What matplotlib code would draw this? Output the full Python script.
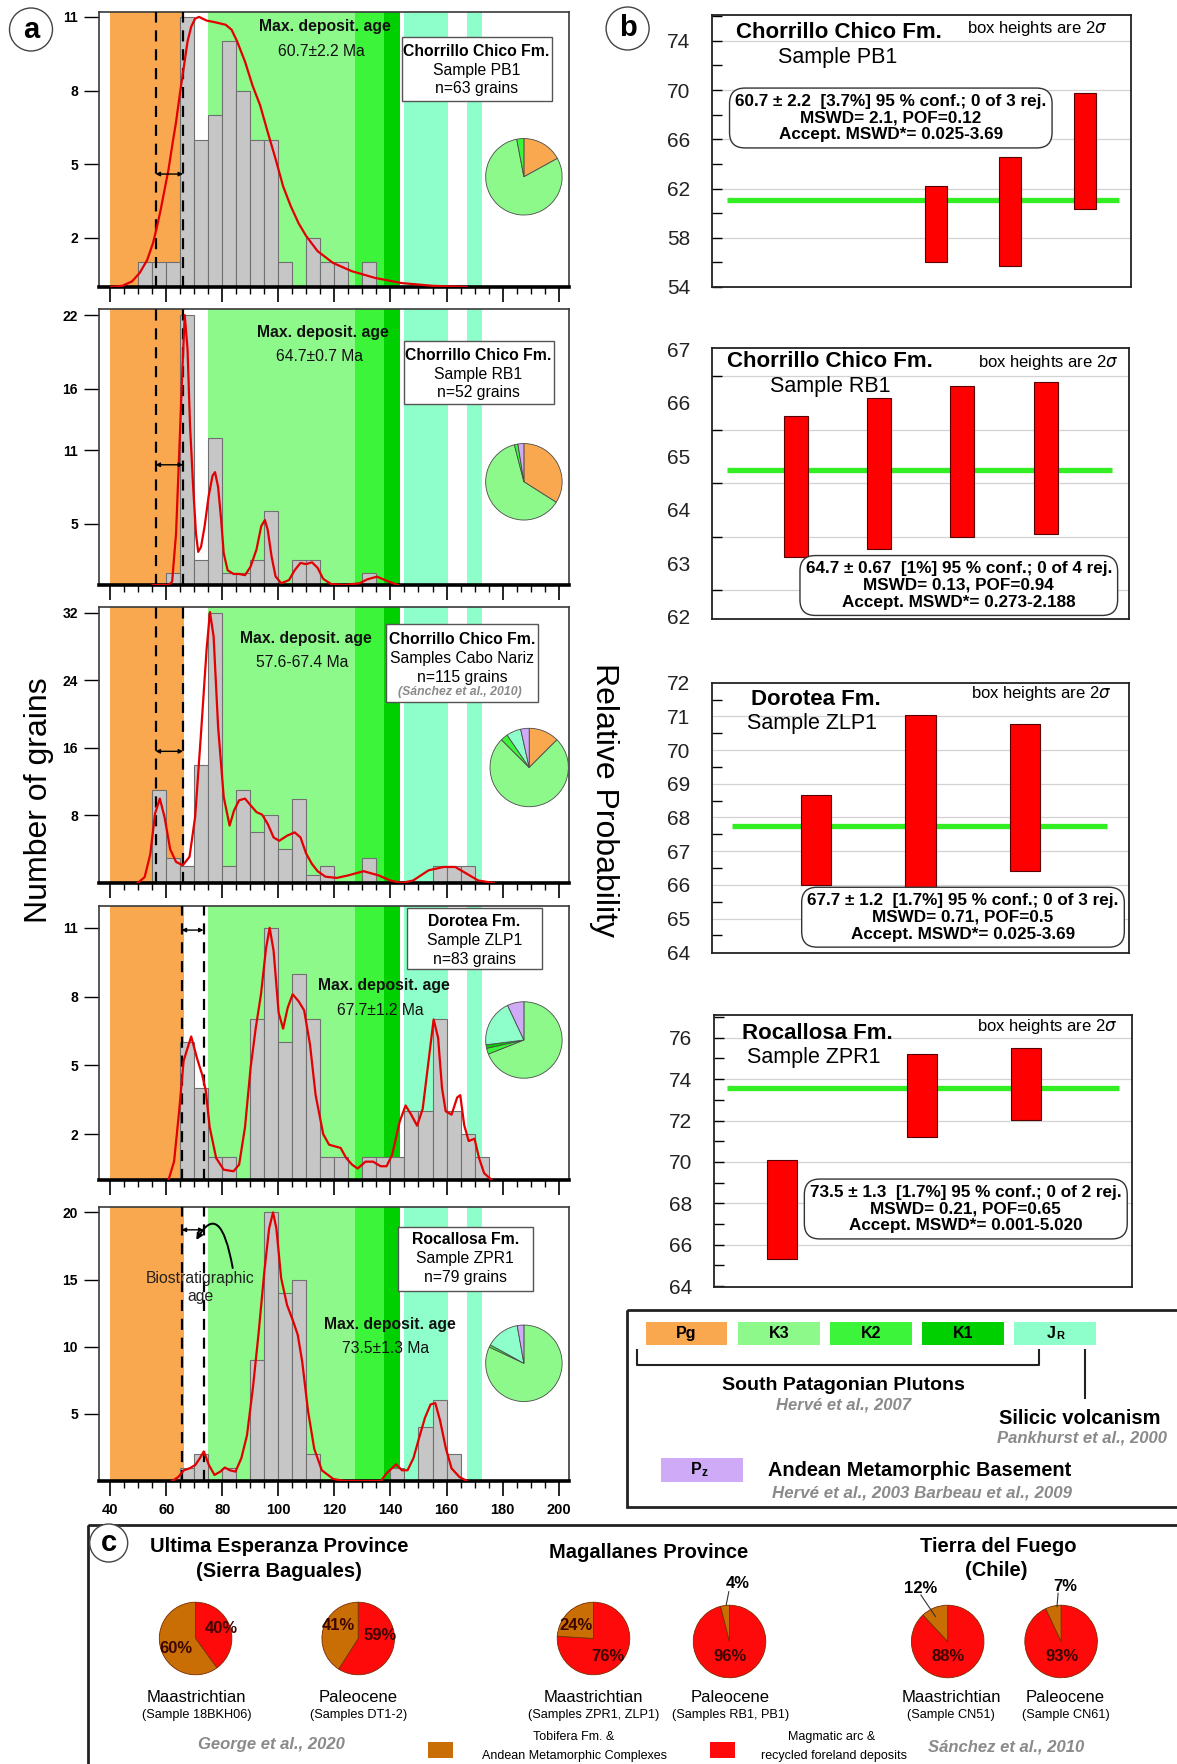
import matplotlib
matplotlib.use("Agg")
import matplotlib.pyplot as plt
import numpy as np
from matplotlib.patches import Rectangle, Circle

plt.rcParams['font.family'] = ['Liberation Sans', 'DejaVu Sans']

W, H = 1177, 1764

# ---------------- data ----------------
# source colours: Pg, K3, K2, K1, JR, Pz
C_PG, C_K3, C_K2, C_K1, C_JR, C_PZ = '#f9a84f', '#8cf98a', '#3cf53a', '#00d000', '#8effca', '#cfaaf7'
src_colors = [C_PG, C_K3, C_K2, C_K1, C_JR, C_PZ]

# background age bands (Ma)
band_lo = [40, 75, 127.4, 137.8, 145, 167.4]
band_hi = [66.2, 127.4, 137.8, 143.5, 160.6, 172.6]
band_col = [C_PG, C_K3, C_K2, C_K1, C_JR, C_JR]

bin_left = list(range(40, 180, 5))
counts_pb1 = [0,0,1,1,1,11,6,7,10,8,6,6,1,0,2,1,1,0,1,0,0,0,0,0,0,0,0,0]
counts_rb1 = [0,0,0,0,1,22,2,12,1,1,2,6,0,2,2,0,0,0,1,0,0,0,0,0,0,0,0,0]
counts_cabo = [0,0,0,11,3,2,14,32,2,11,6,8,4,10,1,2,0,0,3,0,0,0,0,2,2,2,0,0]
counts_zlp1 = [0,0,0,0,0,6,4,1,1,0,7,11,6,9,7,1,1,0,1,1,1,3,3,7,3,2,1,0]
counts_zpr1 = [0,0,0,0,0,1,2,0,1,0,9,20,14,15,2,0,0,0,0,0,1,0,4,6,2,0,0,0]

# probability density curves
pb1_x = [40.3,44.4,47.8,50.5,53.2,55.3,56.7,58.0,59.4,60.8,62.1,63.5,64.8,66.2,67.6,68.9,70.3,71.7,74.4,77.1,
         81.2,83.3,85.3,88.1,90.8,93.5,96.2,99.0,101.7,104.4,107.2,109.9,114.0,119.5,126.3,134.5,144.0,154.9,167.2]
pb1_y = [0,0.05,0.23,0.57,1.1,1.8,2.46,3.14,3.96,4.78,5.74,6.72,7.81,8.91,10.0,10.6,10.93,11.0,10.85,10.79,
         10.68,10.48,10.0,9.18,8.2,7.4,6.31,5.22,4.1,3.3,2.6,2.08,1.46,0.98,0.64,0.37,0.16,0.05,0]
rb1_x = [55.3,60.8,62.1,63.5,64.8,65.8,66.6,67.6,68.5,69.6,70.6,71.4,72.4,73.7,75.1,76.5,77.4,78.5,79.6,80.5,
         81.9,84.0,86.0,88.1,90.1,92.2,93.9,95.2,96.2,97.6,99.0,101.0,103.8,105.8,107.9,109.9,112.0,114.0,116.0,
         118.8,123.5,129.0,131.7,135.2,138.6,142.7]
rb1_y = [0,0,0.27,4.2,11.8,17.8,22.0,19.2,12.9,8.0,4.2,2.7,3.1,4.8,7.2,8.9,9.2,8.0,5.3,2.6,
         1.2,0.9,0.9,0.8,1.5,2.9,4.8,5.3,4.5,2.3,0.7,0.14,0.4,1.2,1.8,1.7,1.85,1.4,0.5,
         0.08,0,0.14,0.46,0.68,0.35,0]
cabo_x = [49.8,52.3,54.3,56.0,57.7,59.4,61.4,63.5,65.9,68.3,70.3,72.4,74.4,75.6,76.9,78.5,80.5,82.6,84.2,86.0,
          88.1,90.1,92.2,94.2,96.2,98.3,100.3,103.1,105.8,107.9,109.9,111.9,114.0,116.8,120.8,124.9,130.4,135.8,
          139.9,144.0,148.1,153.6,159.0,163.1,167.2,171.3,176.8]
cabo_y = [0,0.7,3.4,8.2,10.0,7.8,4.0,2.5,2.1,3.1,7.8,17.7,27.7,32.1,29.2,18.5,10.2,6.8,8.6,9.8,
          10.0,9.2,8.4,8.1,7.0,5.4,5.0,5.6,6.0,5.4,3.5,2.3,1.4,0.75,0.6,0.9,1.4,0.9,
          0.3,0,0.3,1.5,1.9,1.9,1.1,0.3,0]
zlp1_x = [60.8,62.8,64.6,66.2,68.9,71.0,72.8,74.1,75.5,77.8,80.5,84.0,86.0,88.1,90.1,91.9,93.8,95.6,96.9,98.3,
          100.1,101.7,103.3,105.1,107.2,109.2,111.3,113.3,116.0,118.1,120.1,122.2,124.2,126.3,128.3,131.1,133.8,
          136.5,138.6,140.6,143.3,145.4,147.4,149.5,151.5,153.6,155.4,157.0,158.4,159.7,161.8,163.8,164.9,166.3,
          167.9,170.0,171.6,173.4,176.1]
zlp1_y = [0,0.81,3.0,5.2,6.26,5.3,4.6,3.9,2.3,0.96,0.45,0.38,0.67,2.3,4.9,6.6,8.1,10.1,11.0,10.0,
          7.3,6.6,7.5,8.1,7.8,7.4,5.9,3.7,2.0,1.54,1.47,1.4,0.96,0.67,0.5,0.8,0.8,
          0.6,0.6,1.1,2.55,3.25,2.85,2.37,3.1,5.2,7.0,6.2,4.0,3.0,2.85,3.6,3.7,2.4,
          1.7,1.8,0.96,0.3,0]
zpr1_x = [62.1,64.3,66.3,68.4,70.4,72.0,73.4,75.2,77.2,79.3,80.9,82.7,84.7,86.8,88.8,90.9,92.9,95.0,96.7,98.1,
          99.3,101.0,103.1,105.1,106.9,108.5,110.6,112.8,115.5,119.6,123.7,136.6,138.6,142.0,144.1,146.1,148.2,
          150.2,152.3,154.3,156.0,157.7,159.8,161.8,164.6,167.3]
zpr1_y = [0,0.3,0.8,0.95,1.2,1.7,2.2,1.2,0.45,0.7,1.0,0.8,0.7,1.7,3.4,6.9,10.9,15.6,18.8,20.0,
          18.8,15.1,13.1,12.0,10.9,8.9,5.2,2.4,0.8,0.15,0,0,0.57,1.24,0.8,0.8,1.7,
          3.2,4.7,5.7,5.8,4.5,2.4,0.94,0.3,0]

# source proportions (%) in order Pg, K3, K2, K1, JR, Pz
pie_pb1 = [17, 80, 3, 0, 0, 0]
pie_rb1 = [34, 62, 1.5, 0, 0, 2.5]
pie_cabo = [12.5, 75, 3, 0, 6, 3.5]
pie_zlp1 = [0, 69, 2.5, 1.5, 20, 7]
pie_zpr1 = [0, 82, 1, 0, 14.2, 2.8]

yticks_a = [[2, 5, 8, 11], [5, 11, 16, 22], [8, 16, 24, 32], [2, 5, 8, 11], [5, 10, 15, 20]]
ytop_a = [11.2, 22.5, 32.7, 11.95, 20.4]
dash_a = [[56.2, 66.0], [56.2, 66.0], [56.2, 66.0], [65.5, 73.3], [65.5, 73.3]]
arrow_y = [4.6, 9.8, 15.6, 10.9, 18.7]

fm_names = ['Chorrillo Chico Fm.', 'Chorrillo Chico Fm.', 'Chorrillo Chico Fm.', 'Dorotea Fm.', 'Rocallosa Fm.']
sample_names = ['Sample PB1', 'Sample RB1', 'Samples Cabo Nariz', 'Sample ZLP1', 'Sample ZPR1']
n_grains = ['n=63 grains', 'n=52 grains', 'n=115 grains', 'n=83 grains', 'n=79 grains']
max_ages = ['60.7±2.2 Ma', '64.7±0.7 Ma', '57.6-67.4 Ma', '67.7±1.2 Ma', '73.5±1.3 Ma']

# weighted mean panels (b)
b1_pos, b1_top, b1_bot, b1_mean = [3, 4, 5], [62.2, 64.6, 69.8], [56.0, 55.7, 60.3], 61.1
b2_pos, b2_top, b2_bot, b2_mean = [1, 2, 3, 4], [65.75, 66.09, 66.32, 66.39], [63.12, 63.27, 63.49, 63.55], 64.75
b3_pos, b3_top, b3_bot, b3_mean = [1, 2, 3], [68.67, 71.04, 70.77], [66.0, 65.4, 66.41], 67.74
b4_pos, b4_top, b4_bot, b4_mean = [0.65, 2, 3], [70.1, 75.2, 75.5], [65.3, 71.2, 72.03], 73.56
b_stats = ['60.7 ± 2.2  [3.7%] 95 % conf.; 0 of 3 rej.\nMSWD= 2.1, POF=0.12\nAccept. MSWD*= 0.025-3.69',
           '64.7 ± 0.67  [1%] 95 % conf.; 0 of 4 rej.\nMSWD= 0.13, POF=0.94\nAccept. MSWD*= 0.273-2.188',
           '67.7 ± 1.2  [1.7%] 95 % conf.; 0 of 3 rej.\nMSWD= 0.71, POF=0.5\nAccept. MSWD*= 0.025-3.69',
           '73.5 ± 1.3  [1.7%] 95 % conf.; 0 of 2 rej.\nMSWD= 0.21, POF=0.65\nAccept. MSWD*= 0.001-5.020']
b_fm = ['Chorrillo Chico Fm.', 'Chorrillo Chico Fm.', 'Dorotea Fm.', 'Rocallosa Fm.']
b_sample = ['Sample PB1', 'Sample RB1', 'Sample ZLP1', 'Sample ZPR1']

# panel c: % magmatic arc (red) and % Tobifera/metamorphic (brown)
c_red = [40, 59, 76, 96, 88, 93]
c_brown = [60, 41, 24, 4, 12, 7]
c_age = ['Maastrichtian', 'Paleocene', 'Maastrichtian', 'Paleocene', 'Maastrichtian', 'Paleocene']
c_samples = ['(Sample 18BKH06)', '(Samples DT1-2)', '(Samples ZPR1, ZLP1)', '(Samples RB1, PB1)',
             '(Sample CN51)', '(Sample CN61)']
C_RED, C_BROWN = '#ff0a0a', '#c86e04'
GRAY_TXT = '#8a8a8a'

# ---------------- figure ----------------
fig = plt.figure(figsize=(W / 100, H / 100), dpi=100)


def px_axes(x0, y0, x1, y1, z=0):
    return fig.add_axes([x0 / W, 1 - y1 / H, (x1 - x0) / W, (y1 - y0) / H], zorder=z)


# panel a: histograms
hist_rects = [(98.7, 12, 569, 287), (98.7, 309, 569, 585), (98.7, 607, 569, 883),
              (98.7, 906, 569, 1180), (98.7, 1207, 569, 1481)]
hist_counts = [counts_pb1, counts_rb1, counts_cabo, counts_zlp1, counts_zpr1]
curves = [(pb1_x, pb1_y), (rb1_x, rb1_y), (cabo_x, cabo_y), (zlp1_x, zlp1_y), (zpr1_x, zpr1_y)]
pies_a = [pie_pb1, pie_rb1, pie_cabo, pie_zlp1, pie_zpr1]
pie_a_geom = [(523.9, 176.8, 39), (523.9, 481.8, 39), (529.2, 767.5, 40),
              (523.9, 1040, 39), (523.9, 1363.3, 39)]

for i in range(5):
    ax = px_axes(*hist_rects[i])
    for lo, hi, c in zip(band_lo, band_hi, band_col):
        ax.axvspan(lo, hi, color=c, lw=0, zorder=0)
    nz = [(b, c) for b, c in zip(bin_left, hist_counts[i]) if c > 0]
    ax.bar([b for b, _ in nz], [c for _, c in nz], width=5, align='edge',
           color='#c6c6c6', edgecolor='#707070', lw=0.8, zorder=2)
    ax.plot(curves[i][0], curves[i][1], color='#e30000', lw=1.6, zorder=5)
    for d in dash_a[i]:
        ax.axvline(d, color='black', lw=1.6, ls=(0, (5, 3.5)), zorder=4)
    ax.annotate('', xy=(dash_a[i][1], arrow_y[i]), xytext=(dash_a[i][0], arrow_y[i]),
                arrowprops=dict(arrowstyle='<|-|>', lw=1, color='black', shrinkA=0, shrinkB=0,
                                mutation_scale=6), zorder=6)
    ax.set_xlim(35.9, 203.7)
    ax.set_ylim(0, ytop_a[i])
    ax.set_yticks(yticks_a[i], labels=[str(v) for v in yticks_a[i]], fontweight='bold', fontsize=10)
    xt = list(range(40, 201, 20))
    if i == 4:
        ax.set_xticks(xt, labels=[str(v) for v in xt], fontweight='bold', fontsize=10.5)
    else:
        ax.set_xticks(xt, labels=[])
    ax.set_xticks(list(range(40, 201, 5)), minor=True)
    ax.tick_params(axis='x', which='major', length=11, width=1.2, pad=5)
    ax.tick_params(axis='x', which='minor', length=5, width=1)
    ax.tick_params(axis='y', length=11, width=1, pad=4)
    for s in ax.spines.values():
        s.set_color('#3a3a3a')
        s.set_linewidth(1.2)
    ax.spines['bottom'].set_color('black')
    ax.spines['bottom'].set_linewidth(2.6)

    cx, cy, r = pie_a_geom[i]
    pax = px_axes(cx - r, cy - r, cx + r, cy + r, z=5)
    vals = [(v, c) for v, c in zip(pies_a[i], src_colors) if v > 0]
    pax.pie([v for v, _ in vals], colors=[c for _, c in vals], startangle=90, counterclock=False,
            wedgeprops=dict(edgecolor='#4a4a4a', linewidth=0.6))
    pax.set_xlim(-1.02, 1.02)
    pax.set_ylim(-1.02, 1.02)

# panel b: weighted mean plots
b_rects = [(712.2, 15, 1131, 287), (712.2, 348.3, 1129.2, 619),
           (712.2, 682.7, 1128.8, 953.3), (714.1, 1015, 1131.7, 1286.7)]
b_data = [(b1_pos, b1_top, b1_bot, b1_mean), (b2_pos, b2_top, b2_bot, b2_mean),
          (b3_pos, b3_top, b3_bot, b3_mean), (b4_pos, b4_top, b4_bot, b4_mean)]
b_xlim = [5.62, 5.0, 4.0, 4.02]
b_green = [(0.2, 5.46), (0.18, 4.79), (0.19, 3.79), (0.12, 3.9)]
b_ylim = [(54, 76.1), (61.96, 67.02), (63.97, 72.0), (63.97, 77.1)]
b_labels = [[54, 58, 62, 66, 70, 74], [62, 63, 64, 65, 66, 67],
            [64, 65, 66, 67, 68, 69, 70, 71, 72], [64, 66, 68, 70, 72, 74, 76]]
b_minor = [[56, 60, 64, 68, 72, 76], [62.5, 63.5, 64.5, 65.5, 66.5],
           [64.5, 65.5, 66.5, 67.5, 68.5, 69.5, 70.5, 71.5], [65, 67, 69, 71, 73, 75, 77]]
b_grid = [[58, 62, 66, 70, 74], [62.5, 63.5, 64.5, 65.5, 66.5],
          [65, 66, 67, 68, 69, 70, 71], [66, 68, 70, 72, 74, 76]]
b_majlen = [7, 0, 0, 7]

for i in range(4):
    ax = px_axes(*b_rects[i])
    pos, top, bot, mean = b_data[i]
    for g in b_grid[i]:
        ax.axhline(g, color='#d2d2d2', lw=0.9, zorder=0)
    ax.hlines(mean, b_green[i][0], b_green[i][1], color='#33ee22', lw=3.8, zorder=2)
    ax.bar(pos, np.array(top) - np.array(bot), bottom=bot, width=0.29,
           color='#ff0000', edgecolor='#5a0000', lw=0.8, zorder=3)
    ax.set_xlim(0, b_xlim[i])
    ax.set_ylim(*b_ylim[i])
    ax.set_xticks([])
    ax.set_yticks(b_labels[i], labels=[str(v) for v in b_labels[i]], fontsize=15, color='#222222')
    ax.set_yticks(b_minor[i], minor=True)
    ax.tick_params(axis='y', which='major', direction='in', length=b_majlen[i], width=1, pad=16)
    ax.tick_params(axis='y', which='minor', direction='in', length=7, width=1)
    for s in ax.spines.values():
        s.set_color('#222222')
        s.set_linewidth(1.3)

# panel c pies
c_geom = [(195.6, 1638.5), (358.2, 1638.5), (593.5, 1638.5), (729.5, 1641.5), (947.7, 1641.5), (1061.1, 1641.5)]
for i in range(6):
    cx, cy = c_geom[i]
    pax = px_axes(cx - 37, cy - 37, cx + 37, cy + 37, z=5)
    pax.pie([c_red[i], c_brown[i]], colors=[C_RED, C_BROWN], startangle=90, counterclock=False,
            wedgeprops=dict(edgecolor='#7a2a00', linewidth=0.6))
    pax.set_xlim(-1.02, 1.02)
    pax.set_ylim(-1.02, 1.02)

# ---------------- overlay (text, boxes, legend) ----------------
ov = fig.add_axes([0, 0, 1, 1], zorder=10)
ov.set_xlim(0, W)
ov.set_ylim(H, 0)
ov.axis('off')

# circled panel letters
for (x, y, r, t) in [(31, 29.5, 21.5, 'a'), (627.6, 28.5, 21.5, 'b'), (108.7, 1543, 19, 'c')]:
    ov.add_patch(Circle((x, y), r, fc='white', ec='#444444', lw=1, zorder=3))
    ov.text(x, y, t, ha='center', va='center', fontsize=21, fontweight='bold', zorder=4)

ov.text(39, 800, 'Number of grains', rotation=90, ha='center', va='center', fontsize=23)
ov.text(604, 800, 'Relative Probability', rotation=-90, ha='center', va='center', fontsize=23)

# histogram annotations
mda_x = [325.3, 323.3, 306.1, 383.8, 389.5]
mda_y = [27, 332.3, 638.3, 985.7, 1324.3]
for i in range(5):
    ov.text(mda_x[i], mda_y[i], 'Max. deposit. age', ha='center', va='center', fontsize=11.3,
            fontweight='bold', color='#111111')
    ov.text(mda_x[i] - 3.5, mda_y[i] + 24.5, max_ages[i], ha='center', va='center', fontsize=11.3,
            color='#111111')

info_boxes = [(401.8, 37, 551.8, 101), (403.7, 340.7, 553.7, 404.3), (385.7, 624, 537.6, 701.7),
              (406.8, 908.3, 542.2, 969), (398, 1227.3, 533, 1290.7)]
info_x = [476.4, 478.3, 461.9, 474.5, 465.3]
info_y = [51, 355, 639.3, 921.7, 1239.3]
for i in range(5):
    x0, y0, x1, y1 = info_boxes[i]
    ov.add_patch(Rectangle((x0, y0), x1 - x0, y1 - y0, fc='white', ec='#555555', lw=1))
    x, y = info_x[i], info_y[i]
    ov.text(x, y, fm_names[i], ha='center', va='center', fontsize=11.3, fontweight='bold')
    ov.text(x, y + 19, sample_names[i], ha='center', va='center', fontsize=11.3)
    ov.text(x, y + 38, n_grains[i], ha='center', va='center', fontsize=11.3)
ov.text(460, 691.7, '(Sánchez et al., 2010)', ha='center', va='center', fontsize=8.8,
        fontweight='bold', style='italic', color=GRAY_TXT)

ov.text(200.5, 1278.3, 'Biostratigraphic', ha='center', va='center', fontsize=11.3, color='#222222')
ov.text(200.1, 1296, 'age', ha='center', va='center', fontsize=11.3, color='#222222')
ov.annotate('', xy=(196.3, 1240), xytext=(232.7, 1268),
            arrowprops=dict(arrowstyle='-|>', lw=1.4, color='black', mutation_scale=9,
                            connectionstyle='angle3,angleA=100,angleB=60', shrinkA=0, shrinkB=0))

# panel b titles and stats
b_title = [(736.2, 33), (727, 361.7), (750.9, 699.3), (741.7, 1033.3)]
b_samp = [(778.5, 58), (770, 386.7), (747.2, 723.3), (747.2, 1057.3)]
b_note = [(1107.1, 28), (1118.9, 362.3), (1111.5, 693.3), (1117, 1026)]
b_stat_c = [(890.8, 118), (958.8, 585.5), (963, 917.2), (965.8, 1209)]
for i in range(4):
    ov.text(*b_title[i], b_fm[i], ha='left', va='center', fontsize=16, fontweight='bold')
    ov.text(*b_samp[i], b_sample[i], ha='left', va='center', fontsize=15.5)
    ov.text(*b_note[i], r'box heights are 2$\sigma$', ha='right', va='center', fontsize=12)
    ov.text(*b_stat_c[i], b_stats[i], ha='center', va='center', fontsize=12.3, fontweight='bold',
            linespacing=1.15,
            bbox=dict(boxstyle='round,pad=0.33,rounding_size=0.9', fc='white', ec='#333333', lw=1))

# legend box
ov.add_patch(Rectangle((627.1, 1310), 600, 196.7, fill=False, ec='#222222', lw=2))
leg_x = [645.6, 737.9, 830.3, 922, 1014.3]
leg_c = [C_PG, C_K3, C_K2, C_K1, C_JR]
leg_t = ['Pg', 'K3', 'K2', 'K1', '']
for x, c, t in zip(leg_x, leg_c, leg_t):
    ov.add_patch(Rectangle((x, 1321.7), 81.7, 23.3, fc=c, ec='none'))
    ov.text(x + 40.8, 1333.5, t, ha='center', va='center', fontsize=11.5, fontweight='bold')
ov.text(1056, 1333.5, 'J', ha='right', va='center', fontsize=11.5, fontweight='bold')
ov.text(1056, 1336, 'R', ha='left', va='center', fontsize=8, fontweight='bold')
ov.plot([637, 637, 1039.2, 1039.2], [1350, 1365, 1365, 1350], color='#222222', lw=1.5)
ov.plot([1084.7, 1084.7], [1350, 1398], color='#222222', lw=1.5)
ov.text(843.8, 1385, 'South Patagonian Plutons', ha='center', va='center', fontsize=14, fontweight='bold')
ov.text(843.8, 1405, 'Hervé et al., 2007', ha='center', va='center', fontsize=12, fontweight='bold',
        style='italic', color=GRAY_TXT)
ov.text(1079.7, 1418, 'Silicic volcanism', ha='center', va='center', fontsize=14.5, fontweight='bold')
ov.text(1082.4, 1438, 'Pankhurst et al., 2000', ha='center', va='center', fontsize=12, fontweight='bold',
        style='italic', color=GRAY_TXT)
ov.add_patch(Rectangle((660.9, 1458), 81.7, 24, fc=C_PZ, ec='none'))
ov.text(702, 1470, 'P', ha='right', va='center', fontsize=11.5, fontweight='bold')
ov.text(702, 1472.5, 'z', ha='left', va='center', fontsize=8.5, fontweight='bold')
ov.text(919.8, 1470, 'Andean Metamorphic Basement', ha='center', va='center', fontsize=14.3, fontweight='bold')
ov.text(922, 1493, 'Hervé et al., 2003 Barbeau et al., 2009', ha='center', va='center', fontsize=12.2,
        fontweight='bold', style='italic', color=GRAY_TXT)

# panel c box and text
ov.add_patch(Rectangle((87.7, 1525), 1200, 300, fill=False, ec='#222222', lw=2))
ov.text(279, 1547, 'Ultima Esperanza Province', ha='center', va='center', fontsize=14.5, fontweight='bold')
ov.text(279, 1571.7, '(Sierra Baguales)', ha='center', va='center', fontsize=14.5, fontweight='bold')
ov.text(649, 1553, 'Magallanes Province', ha='center', va='center', fontsize=14.5, fontweight='bold')
ov.text(998.4, 1547, 'Tierra del Fuego', ha='center', va='center', fontsize=14.5, fontweight='bold')
ov.text(996.5, 1570, '(Chile)', ha='center', va='center', fontsize=14.5, fontweight='bold')

pct_in = [[(221, 1628.3, c_red[0]), (175.5, 1648.3, c_brown[0])],
          [(380, 1636, c_red[1]), (338, 1625, c_brown[1])],
          [(608, 1656.7, c_red[2]), (576, 1625, c_brown[2])],
          [(729.5, 1656.7, c_red[3])], [(947.7, 1656.7, c_red[4])], [(1061.8, 1656.7, c_red[5])]]
for grp in pct_in:
    for x, y, v in grp:
        ov.text(x, y, f'{v}%', ha='center', va='center', fontsize=12, fontweight='bold', color='#3d0500')
pct_out = [((738, 1584), (728.8, 1591.7), (726.2, 1605), c_brown[3]),
           ((920.2, 1588.3), (920.9, 1595), (935.6, 1616.7), c_brown[4]),
           ((1065.5, 1586.7), (1058.1, 1593.3), (1057, 1606.7), c_brown[5])]
for (tx, ty), (ax0, ay0), (ax1, ay1), v in pct_out:
    ov.text(tx, ty, f'{v}%', ha='center', va='center', fontsize=12, fontweight='bold')
    ov.plot([ax0, ax1], [ay0, ay1], color='#333333', lw=0.8)

age_x = [196.7, 358.2, 593.5, 730.6, 951.4, 1065.5]
for i in range(6):
    ov.text(age_x[i], 1697.7, c_age[i], ha='center', va='center', fontsize=12)
    ov.text(age_x[i], 1715, c_samples[i], ha='center', va='center', fontsize=9.2)

ov.text(271.4, 1745, 'George et al., 2020', ha='center', va='center', fontsize=12,
        fontweight='bold', style='italic', color=GRAY_TXT)
ov.text(1006.6, 1746.7, 'Sánchez et al., 2010', ha='center', va='center', fontsize=12,
        fontweight='bold', style='italic', color=GRAY_TXT)
ov.add_patch(Rectangle((427.5, 1741.7), 25.6, 16.6, fc=C_BROWN, ec='none'))
ov.text(573.6, 1736.7, 'Tobifera Fm. &', ha='center', va='center', fontsize=9)
ov.text(574.6, 1756, 'Andean Metamorphic Complexes', ha='center', va='center', fontsize=9)
ov.add_patch(Rectangle((709.7, 1741.7), 25.7, 16.6, fc=C_RED, ec='none'))
ov.text(831.8, 1736.7, 'Magmatic arc &', ha='center', va='center', fontsize=9)
ov.text(833.7, 1756, 'recycled foreland deposits', ha='center', va='center', fontsize=9)

fig.savefig('out.png', dpi=100)
